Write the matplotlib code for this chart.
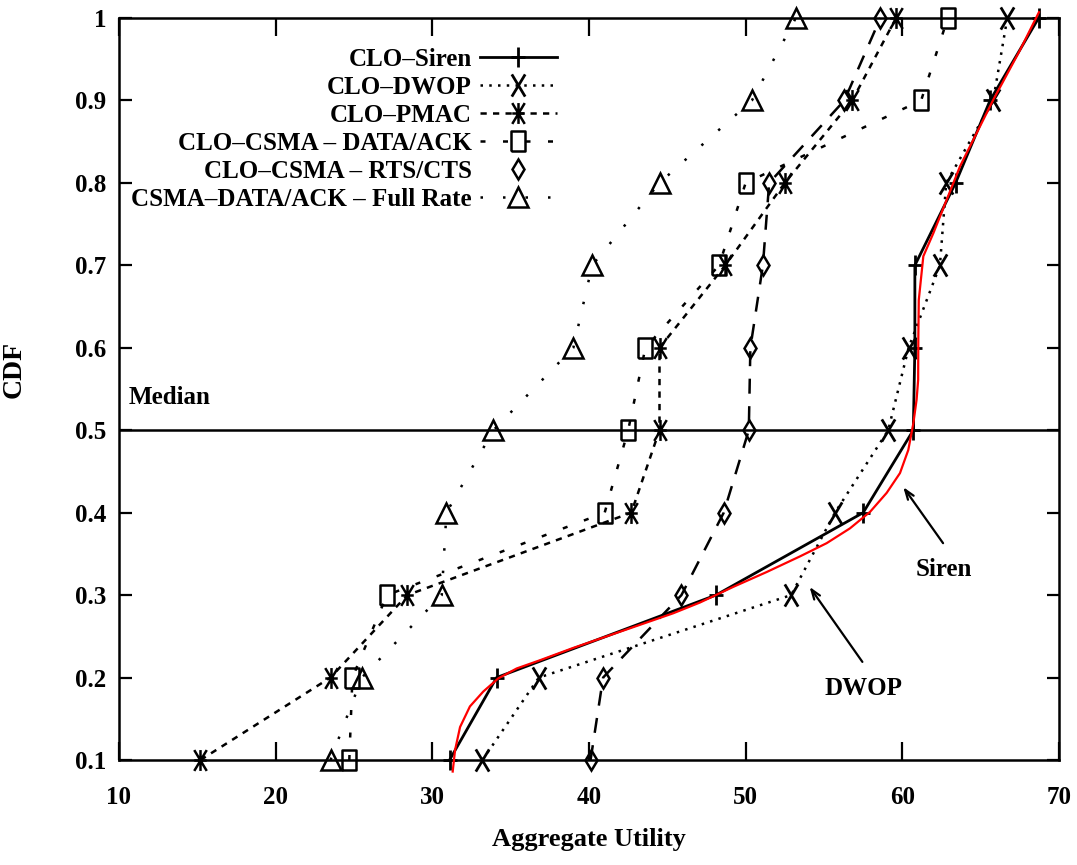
import matplotlib
matplotlib.use("Agg")
import matplotlib.pyplot as plt
from matplotlib.lines import Line2D
from matplotlib.path import Path

# ---------------- data ----------------
cdf = [0.1, 0.2, 0.3, 0.4, 0.5, 0.6, 0.7, 0.8, 0.9, 1.0]
siren = [31.1, 34.1, 48.1, 57.5, 60.7, 60.8, 60.8, 63.4, 65.6, 68.7]
dwop = [33.2, 36.8, 52.9, 55.7, 59.1, 60.4, 62.4, 62.8, 65.8, 66.7]
pmac = [15.2, 23.5, 28.4, 42.7, 44.5, 44.5, 48.7, 52.5, 56.8, 59.6]
data_ack = [24.7, 24.9, 27.1, 41.0, 42.5, 43.6, 48.3, 50.0, 61.2, 62.9]
rts_cts = [40.1, 40.9, 45.9, 48.6, 50.2, 50.3, 51.1, 51.5, 56.3, 58.6]
full_rate = [23.5, 25.5, 30.6, 30.9, 33.9, 39.0, 40.2, 44.5, 50.4, 53.2]

# red hand-drawn fit over the Siren curve
red_x = [31.30, 31.45, 31.77, 32.40, 33.25, 34.21, 35.38, 36.87, 39.00, 41.13,
         43.26, 45.38, 47.08, 49.21, 51.34, 53.47, 55.17, 56.66, 57.94, 59.00,
         59.85, 60.38, 60.70, 60.91, 61.01, 61.02, 61.05, 61.34, 61.98, 63.68,
         65.81, 67.51, 68.72]
red_y = [0.086, 0.112, 0.140, 0.165, 0.183, 0.199, 0.211, 0.221, 0.236, 0.250,
         0.264, 0.278, 0.291, 0.310, 0.328, 0.347, 0.363, 0.381, 0.401, 0.424,
         0.448, 0.476, 0.508, 0.537, 0.561, 0.610, 0.658, 0.711, 0.739, 0.820,
         0.901, 0.961, 1.007]

labels = ["CLO–Siren", "CLO–DWOP", "CLO–PMAC", "CLO–CSMA – DATA/ACK",
          "CLO–CSMA – RTS/CTS", "CSMA–DATA/ACK – Full Rate"]

xticks = [10, 20, 30, 40, 50, 60, 70]
yticks = [0.1, 0.2, 0.3, 0.4, 0.5, 0.6, 0.7, 0.8, 0.9, 1.0]
ytick_labels = ["0.1", "0.2", "0.3", "0.4", "0.5", "0.6", "0.7", "0.8", "0.9", "1"]

# ---------------- style ----------------
plt.rcParams['font.family'] = ['Liberation Serif', 'DejaVu Serif']
plt.rcParams['font.weight'] = 'bold'
plt.rcParams['axes.labelweight'] = 'bold'
FS = 18

fig = plt.figure(figsize=(10.77, 8.65), dpi=100)
ax = fig.add_axes([119 / 1077, 1 - 760 / 865, 940 / 1077, 742 / 865])

# narrow (horizontally compressed) marker shapes like the reference
M, L = Path.MOVETO, Path.LINETO
plus_m = Path([(0, -1), (0, 1), (-0.7, 0), (0.7, 0)], [M, L, M, L])
cross_m = Path([(-0.6, -1), (0.6, 1), (-0.6, 1), (0.6, -1)], [M, L, M, L])
aster_m = Path([(-0.6, -1), (0.6, 1), (-0.6, 1), (0.6, -1),
                (0, -1), (0, 1), (-0.6, 0), (0.6, 0)], [M, L, M, L, M, L, M, L])
tall_square = [(-0.68, -1), (0.68, -1), (0.68, 1), (-0.68, 1), (-0.68, -1)]

LW = 1.8
styles = [
    dict(linestyle='-', marker=plus_m, ms=15, mew=2.0, lw=2.0),
    dict(linestyle=(0, (1, 2.5)), marker=cross_m, ms=16, mew=2.0, lw=LW),
    dict(linestyle=(0, (2.5, 2.5)), marker=aster_m, ms=15, mew=1.8, lw=LW),
    dict(linestyle=(0, (2, 7)), marker=tall_square, ms=15, mew=1.8, lw=LW, fillstyle='none'),
    dict(linestyle=(0, (6, 5)), marker='d', ms=10, mew=1.8, lw=LW, fillstyle='none'),
    dict(linestyle=(0, (1, 8)), marker='^', ms=14, mew=1.8, lw=LW, fillstyle='none'),
]
series = [siren, dwop, pmac, data_ack, rts_cts, full_rate]

for vals, st in zip(series, styles):
    ax.plot(vals, cdf, color='black', clip_on=False, zorder=3, **st)

# red fit curve
ax.plot(red_x, red_y, color='red', lw=1.6, clip_on=False, zorder=4,
        solid_joinstyle='round')

# median line
ax.axhline(0.5, color='black', lw=1.8, zorder=2)
ax.text(10.6, 0.54, "Median", fontsize=FS, ha='left', va='center')

# annotations
ax.annotate('', xy=(60.06, 0.431), xytext=(62.6, 0.363),
            arrowprops=dict(arrowstyle='->,head_length=0.7,head_width=0.25',
                            lw=1.6, color='black', shrinkA=0, shrinkB=0))
ax.text(62.67, 0.3306, "Siren", fontsize=FS, ha='center', va='center')
ax.annotate('', xy=(54.08, 0.310), xytext=(57.45, 0.219),
            arrowprops=dict(arrowstyle='->,head_length=0.7,head_width=0.25',
                            lw=1.6, color='black', shrinkA=0, shrinkB=0))
ax.text(57.5, 0.187, "DWOP", fontsize=FS, ha='center', va='center')

# axes
ax.set_xlim(10, 70)
ax.set_ylim(0.1, 1.0)
ax.set_xticks(xticks)
ax.set_xticklabels([str(v) for v in xticks])
ax.set_yticks(yticks)
ax.set_yticklabels(ytick_labels)
for s in ax.spines.values():
    s.set_linewidth(1.8)
ax.tick_params(axis='both', direction='in', top=True, right=True,
               width=1.6, labelsize=FS)
ax.tick_params(axis='x', length=13, pad=19)
ax.tick_params(axis='y', length=9, pad=9)

ax.set_xlabel("Aggregate Utility", fontsize=FS + 1, fontweight='bold')
ax.xaxis.set_label_coords(0.5, (760 - 828) / 742)
ax.set_ylabel("CDF", fontsize=FS + 2, fontweight='bold')
ax.yaxis.set_label_coords((27 - 119) / 940, (760 - 369) / 742)

# legend (proxy handles that mirror the plotted styles)
handles = []
for i, st in enumerate(styles):
    st2 = dict(st)
    if i == 4:
        st2['linestyle'] = 'none'
    handles.append(Line2D([], [], color='black', **st2))
leg = ax.legend(handles, labels, loc='upper right',
                bbox_to_anchor=((557 - 119) / 940, (760 - 48) / 742),
                frameon=False, markerfirst=False, fontsize=FS,
                handlelength=3.1, handletextpad=0.3, labelspacing=0.2,
                borderpad=0, borderaxespad=0)
leg.set_zorder(5)

fig.savefig("out.png", dpi=100)
